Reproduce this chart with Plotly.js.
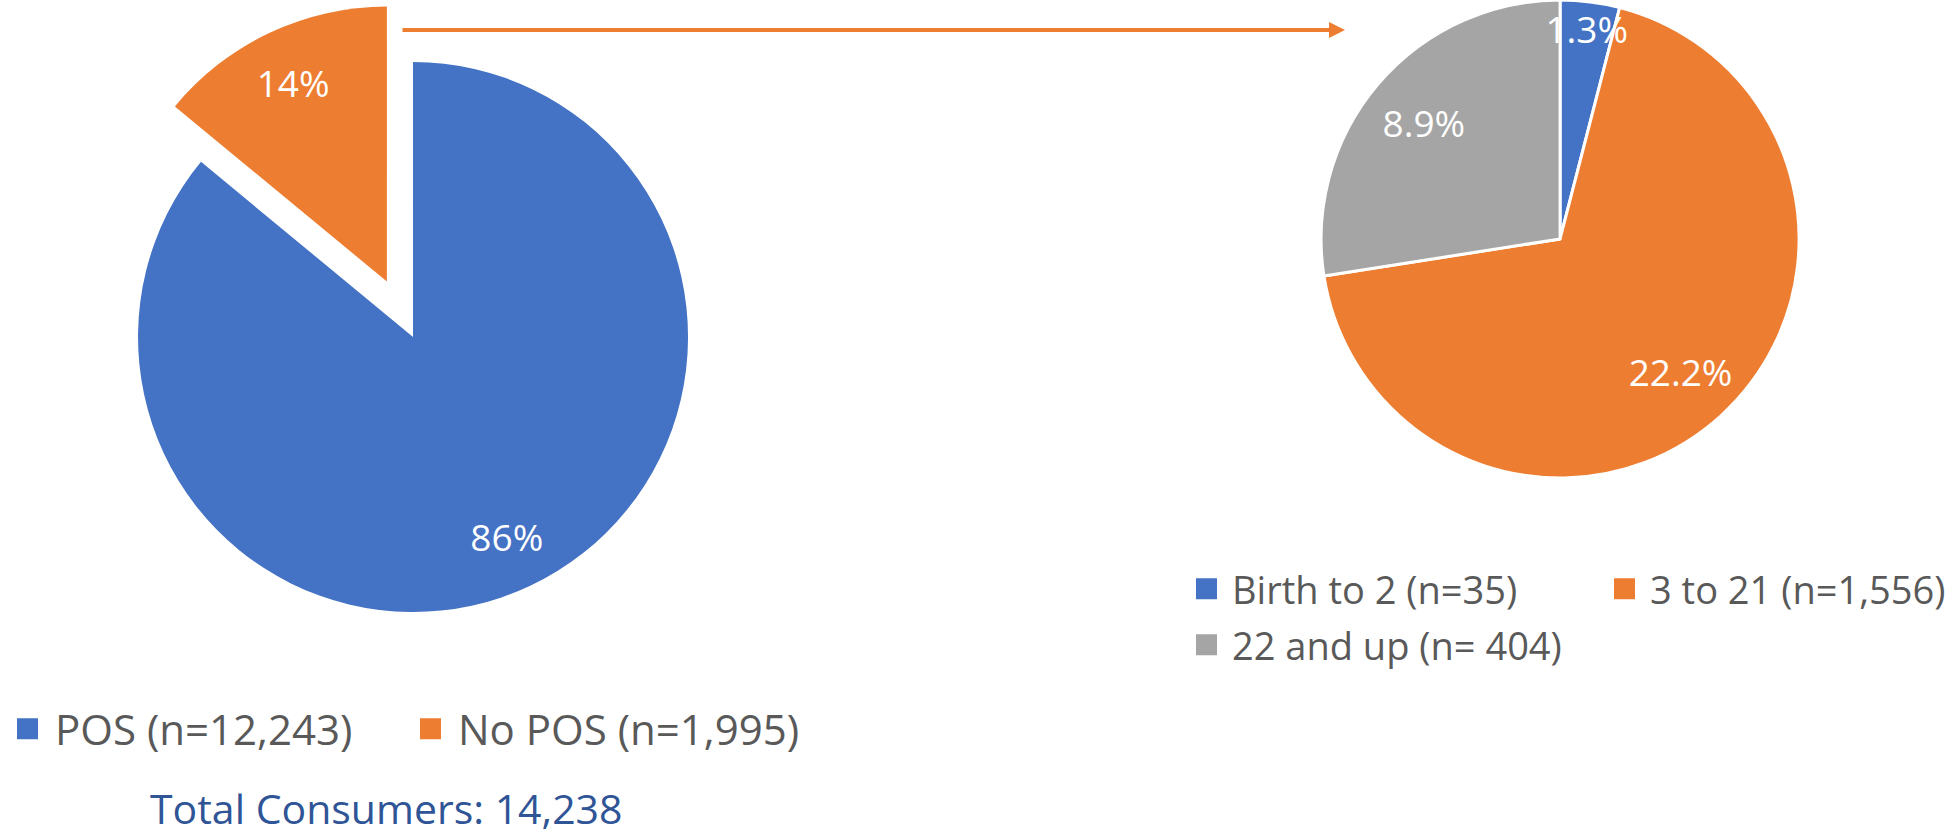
<!DOCTYPE html>
<html>
<head>
<meta charset="utf-8">
<script src="https://cdn.plot.ly/plotly-3.0.1.min.js"></script>
<style>
html, body { margin: 0; padding: 0; background: #ffffff; }
#chart { width: 1954px; height: 838px; }
</style>
</head>
<body>
<div id="chart"></div>
<script>
// ---- Data ----
const posLabels = ['POS', 'No POS'];
const posCounts = [12243, 1995];
const posColors = ['#4472C4', '#ED7D31'];
const posPull = [0, 0.223];

const ageLabels = ['Birth to 2', '3 to 21', '22 and up'];
const ageLegendLabels = ['Birth to 2 (n=35)', '3 to 21 (n=1,556)', '22 and up (n= 404)'];
const ageCounts = [35, 1556, 404];
const agePercents = [1.3, 22.2, 8.9];
const ageColors = ['#4472C4', '#ED7D31', '#A5A5A5'];

const totalLabel = 'Total Consumers';

// ---- Build ----
const FONT = '"Open Sans", "Noto Sans", sans-serif';
const W = 1954, H = 838;
const total = posCounts.reduce((a, b) => a + b, 0);
const posLegendLabels = posLabels.map((l, i) => l + ' (n=' + posCounts[i].toLocaleString('en-US') + ')');
const CLEAR = 'rgba(0,0,0,0)';

const leftDomain = { x: [0.03925, 0.3835], y: [0.1965, 0.9992] };
const rightDomain = { x: [0.6756, 0.9212], y: [0.4296, 1] };

const pieCommon = {
  type: 'pie', sort: false, direction: 'clockwise', rotation: 0,
  showlegend: false, hoverinfo: 'skip'
};
const labelFont = { family: FONT, size: 37, color: '#ffffff' };

const traces = [];

// left pie: coloured slices
traces.push(Object.assign({}, pieCommon, {
  labels: posLabels, values: posCounts, pull: posPull,
  marker: { colors: posColors, line: { width: 0 } },
  domain: leftDomain, textinfo: 'none'
}));
// left pie: label layer (same slices, transparent, labels in outer ring)
traces.push(Object.assign({}, pieCommon, {
  labels: posLabels, values: posCounts, pull: posPull, hole: 0.6,
  marker: { colors: posLabels.map(() => CLEAR), line: { width: 0 } },
  domain: leftDomain,
  texttemplate: '%{percent:.0%}', textposition: 'inside',
  insidetextorientation: 'horizontal', textfont: labelFont
}));

// right pie: coloured slices
traces.push(Object.assign({}, pieCommon, {
  labels: ageLabels, values: agePercents, customdata: ageCounts,
  marker: { colors: ageColors, line: { color: '#ffffff', width: 3 } },
  domain: rightDomain, textinfo: 'none'
}));
// right pie: label layer
traces.push(Object.assign({}, pieCommon, {
  labels: ageLabels, values: agePercents, hole: 0.5,
  marker: { colors: ageLabels.map(() => CLEAR), line: { width: 0 } },
  domain: rightDomain,
  texttemplate: '%{value:.1f}%', textposition: 'inside',
  insidetextorientation: 'horizontal', textfont: labelFont
}));

// legend entries (no data drawn)
posLegendLabels.forEach((name, i) => {
  traces.push({
    type: 'scatter', mode: 'markers', x: [null], y: [null], name: name,
    marker: { symbol: 'square', size: 16, color: posColors[i], line: { color: posColors[i], width: 5 } },
    legend: 'legend', hoverinfo: 'skip'
  });
});
ageLegendLabels.forEach((name, i) => {
  traces.push({
    type: 'scatter', mode: 'markers', x: [null], y: [null], name: name,
    marker: { symbol: 'square', size: 16, color: ageColors[i], line: { color: ageColors[i], width: 5 } },
    legend: i < 2 ? 'legend2' : 'legend3', hoverinfo: 'skip'
  });
});

const legendBase = {
  orientation: 'h', xanchor: 'left', yanchor: 'middle',
  itemwidth: 45, bgcolor: 'rgba(0,0,0,0)', borderwidth: 0,
  font: { family: FONT, size: 42, color: '#595959' },
  traceorder: 'normal', itemclick: false, itemdoubleclick: false
};
const rightLegend = Object.assign({}, legendBase, {
  itemwidth: 41, font: { family: FONT, size: 38, color: '#595959' }
});

const layout = {
  width: W, height: H,
  margin: { l: 0, r: 0, t: 0, b: 0, pad: 0, autoexpand: false },
  paper_bgcolor: '#ffffff', plot_bgcolor: '#ffffff',
  font: { family: FONT, color: '#595959' },
  showlegend: true,
  uniformtext: { mode: 'show', minsize: 37 },
  xaxis: { visible: false, fixedrange: true },
  yaxis: { visible: false, fixedrange: true },
  legend: Object.assign({}, legendBase, { x: 0 / W, y: 1 - 729 / H, entrywidth: 343 }),
  legend2: Object.assign({}, rightLegend, { x: 1181 / W, y: 1 - 589 / H, entrywidth: 362 }),
  legend3: Object.assign({}, rightLegend, { x: 1181 / W, y: 1 - 645 / H }),
  annotations: [
    {
      xref: 'paper', yref: 'paper', x: 148 / W, y: 0,
      xanchor: 'left', yanchor: 'bottom', showarrow: false,
      text: totalLabel + ': ' + total.toLocaleString('en-US'),
      font: { family: FONT, size: 41, color: '#2F5597' }
    },
    {
      xref: 'paper', yref: 'paper', x: 1345 / W, y: 1 - 30 / H,
      axref: 'paper', ayref: 'paper', ax: 401 / W, ay: 1 - 30 / H,
      text: '', showarrow: true, arrowhead: 2, arrowsize: 0.8, arrowwidth: 4,
      arrowcolor: '#ED7D31', standoff: 0
    }
  ]
};

Plotly.newPlot('chart', traces, layout, { displayModeBar: false, staticPlot: true });
</script>
</body>
</html>
